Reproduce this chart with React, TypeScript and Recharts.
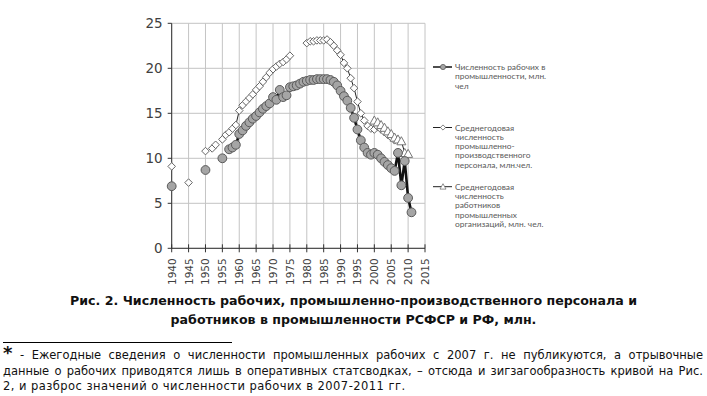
import React from 'react';
import { LineChart, Line, XAxis, YAxis, CartesianGrid } from 'recharts';

// Численность рабочих в промышленности, млн. чел
const workerYears = [1940, 1950, 1955, 1957, 1958, 1959, 1960, 1961, 1962, 1963, 1964, 1965, 1966, 1967, 1968, 1969, 1970, 1971, 1972, 1973, 1974, 1975, 1976, 1977, 1978, 1979, 1980, 1981, 1982, 1983, 1984, 1985, 1986, 1987, 1988, 1989, 1990, 1991, 1992, 1993, 1994, 1995, 1996, 1997, 1998, 1999, 2000, 2001, 2002, 2003, 2004, 2005, 2006, 2007, 2008, 2009, 2010, 2011];
const workerValues = [6.9, 8.7, 10.0, 11.0, 11.2, 11.5, 12.7, 13.1, 13.6, 14.0, 14.4, 14.7, 15.1, 15.5, 15.8, 16.1, 16.8, 16.5, 17.6, 16.8, 17.0, 17.9, 18.0, 18.1, 18.3, 18.5, 18.6, 18.7, 18.7, 18.8, 18.8, 18.8, 18.8, 18.7, 18.5, 18.1, 17.5, 16.9, 16.4, 15.6, 14.5, 13.2, 12.0, 11.2, 10.6, 10.4, 10.6, 10.4, 10.0, 9.6, 9.25, 8.9, 8.6, 10.6, 7.0, 9.7, 5.6, 4.0];

// Среднегодовая численность промышленно-производственного персонала, млн. чел.
const staffYears = [1940, 1945, 1950, 1952, 1953, 1955, 1956, 1957, 1958, 1959, 1960, 1961, 1962, 1963, 1964, 1965, 1966, 1967, 1968, 1969, 1970, 1971, 1972, 1973, 1974, 1975, 1980, 1981, 1982, 1983, 1984, 1985, 1986, 1987, 1988, 1989, 1990, 1991, 1992, 1993, 1994, 1995, 1996, 1997, 1998, 1999, 2000, 2001, 2002, 2003, 2004, 2005, 2006];
const staffValues = [9.1, 7.3, 10.8, 11.1, 11.5, 12.1, 12.6, 12.9, 13.3, 13.7, 15.3, 15.9, 16.3, 16.7, 17.1, 17.6, 18.0, 18.5, 19.0, 19.5, 19.9, 20.2, 20.5, 20.7, 21.0, 21.4, 22.8, 23.0, 23.0, 23.1, 23.1, 23.1, 23.2, 22.9, 22.5, 22.0, 21.5, 20.6, 20.0, 18.9, 17.8, 16.3, 15.0, 14.2, 13.6, 13.3, 13.2, 13.5, 13.2, 12.9, 12.6, 12.3, 12.0];

// Среднегодовая численность работников промышленных организаций, млн. чел.
const employeeYears = [2000, 2001, 2002, 2003, 2004, 2005, 2006, 2007, 2008, 2009, 2010];
const employeeValues = [14.2, 14.0, 13.7, 13.4, 13.0, 12.7, 12.3, 12.1, 11.9, 10.6, 10.5];

const xTicks = [1940, 1945, 1950, 1955, 1960, 1965, 1970, 1975, 1980, 1985, 1990, 1995, 2000, 2005, 2010, 2015];
const yTicks = [0, 5, 10, 15, 20, 25];

const legendWorkers = ['Численность рабочих в', 'промышленности, млн.', 'чел'];
const legendStaff = ['Среднегодовая', 'численность', 'промышленно-', 'производственного', 'персонала, млн.чел.'];
const legendEmployees = ['Среднегодовая', 'численность', 'работников', 'промышленных', 'организаций, млн. чел.'];

const captionLines = [
  'Рис. 2. Численность рабочих, промышленно-производственного персонала и',
  'работников в промышленности РСФСР и РФ, млн.',
];
const footnoteLines = [
  'Ежегодные сведения о численности промышленных рабочих с 2007 г. не публикуются, а отрывочные',
  'данные о рабочих приводятся лишь в оперативных статсводках, – отсюда и зигзагообразность кривой на Рис.',
  '2, и разброс значений о численности рабочих в 2007-2011 гг.',
];

const allYears = [...workerYears, ...staffYears, ...employeeYears];
const minYear = Math.min(...allYears);
const maxYear = Math.max(...allYears);
const rows: any[] = [];
for (let y = minYear; y <= maxYear; y++) {
  const wi = workerYears.indexOf(y);
  const si = staffYears.indexOf(y);
  const ei = employeeYears.indexOf(y);
  rows.push({
    year: y,
    workers: wi >= 0 ? workerValues[wi] : null,
    staff: si >= 0 ? staffValues[si] : null,
    employees: ei >= 0 ? employeeValues[ei] : null,
  });
}

const CircleDot = (p: any) => {
  if (p.cx == null || p.cy == null || p.value == null) return <g key={p.key} />;
  return <circle key={p.key} cx={p.cx} cy={p.cy} r={4.4} fill="#a5a5a5" stroke="#5a5a5a" strokeWidth={1} />;
};
const DiamondDot = (p: any) => {
  if (p.cx == null || p.cy == null || p.value == null) return <g key={p.key} />;
  const s = 3.8;
  return (
    <path key={p.key} d={`M${p.cx},${p.cy - s}L${p.cx + s},${p.cy}L${p.cx},${p.cy + s}L${p.cx - s},${p.cy}Z`} fill="#ffffff" stroke="#666666" strokeWidth={1} />
  );
};
const TriangleDot = (p: any) => {
  if (p.cx == null || p.cy == null || p.value == null) return <g key={p.key} />;
  const s = 4.5;
  return (
    <path key={p.key} d={`M${p.cx},${p.cy - s}L${p.cx + s},${p.cy + s * 0.8}L${p.cx - s},${p.cy + s * 0.8}Z`} fill="#ffffff" stroke="#777777" strokeWidth={1} />
  );
};

const XTick = (p: any) => {
  const { x, y, payload } = p;
  const ty = y + 10;
  return (
    <g>
      <line x1={x} x2={x} y1={y - 4} y2={y + 4} stroke="#333333" strokeWidth={1} />
      <text x={x} y={ty} transform={`rotate(-90 ${x} ${ty})`} textAnchor="end" dominantBaseline="central" fontSize={10.5} fill="#404040" fontFamily="DejaVu Sans">
        {payload.value}
      </text>
    </g>
  );
};

const LegendBlock = ({ y, lines, kind }: { y: number; lines: string[]; kind: string }) => {
  const lh = 9.3;
  const cx = 443;
  let marker: any = null;
  if (kind === 'circle') marker = <circle cx={cx} cy={y} r={2.6} fill="#a5a5a5" stroke="#5a5a5a" strokeWidth={0.8} />;
  if (kind === 'diamond') marker = <path d={`M${cx},${y - 2.6}L${cx + 2.6},${y}L${cx},${y + 2.6}L${cx - 2.6},${y}Z`} fill="#fff" stroke="#666" strokeWidth={0.8} />;
  if (kind === 'triangle') marker = <path d={`M${cx},${y - 3}L${cx + 3},${y + 2.4}L${cx - 3},${y + 2.4}Z`} fill="#fff" stroke="#777" strokeWidth={0.8} />;
  return (
    <g>
      <line x1={433} x2={452} y1={y} y2={y} stroke="#222" strokeWidth={kind === 'circle' ? 1.6 : 1} />
      {marker}
      {lines.map((t, i) => (
        <text key={i} x={455} y={y + i * lh} dominantBaseline="central" fontSize={8.4} fill="#595959" fontFamily="Lato">
          {t}
        </text>
      ))}
    </g>
  );
};

export default function App() {
  return (
    <div style={{ position: 'absolute', left: 0, top: 0, width: 707, height: 396, background: '#fff', overflow: 'hidden' }}>
      <div style={{ position: 'absolute', left: 0, top: 0 }}>
        <LineChart width={707} height={300} data={rows} margin={{ top: 23.3, right: 282, bottom: 11.7, left: 141.7 }}>
          <CartesianGrid stroke="#c4c4c4" strokeWidth={1} />
          <XAxis
            dataKey="year"
            type="number"
            domain={[1940, 2015]}
            ticks={xTicks}
            interval={0}
            height={40}
            tickSize={0}
            tickMargin={0}
            tickLine={false}
            axisLine={{ stroke: '#333333' }}
            tick={<XTick />}
          />
          <YAxis
            type="number"
            domain={[0, 25]}
            ticks={yTicks}
            interval={0}
            width={30}
            tickSize={4}
            tickMargin={5}
            axisLine={{ stroke: '#333333' }}
            tickLine={{ stroke: '#333333' }}
            tick={{ fontSize: 13.5, fill: '#404040', fontFamily: 'DejaVu Sans' }}
          />
          <Line dataKey="staff" stroke="#222222" strokeWidth={1} dot={DiamondDot} activeDot={false} isAnimationActive={false} connectNulls={false} />
          <Line dataKey="employees" stroke="#222222" strokeWidth={1} dot={TriangleDot} activeDot={false} isAnimationActive={false} connectNulls={false} />
          <Line dataKey="workers" stroke="#111111" strokeWidth={2.6} dot={CircleDot} activeDot={false} isAnimationActive={false} connectNulls={false} />
        </LineChart>
      </div>
      <svg width={707} height={300} style={{ position: 'absolute', left: 0, top: 0 }}>
        <LegendBlock y={67} lines={legendWorkers} kind="circle" />
        <LegendBlock y={127.5} lines={legendStaff} kind="diamond" />
        <LegendBlock y={186.7} lines={legendEmployees} kind="triangle" />
      </svg>
      <div style={{ position: 'absolute', left: 0, top: 291, width: 707, textAlign: 'center', fontFamily: 'DejaVu Sans', fontWeight: 'bold', fontSize: 12.6, lineHeight: '19px', color: '#111' }}>
        {captionLines.map((t, i) => (
          <div key={i}>{t}</div>
        ))}
      </div>
      <div style={{ position: 'absolute', left: 3, top: 342, width: 229, borderTop: '1px solid #000' }} />
      <div style={{ position: 'absolute', left: 3, top: 348, width: 700, fontFamily: 'DejaVu Sans', fontSize: 11.5, lineHeight: '15.5px', color: '#111' }}>
        {footnoteLines.map((t, i) => (
          <div
            key={i}
            style={{
              textAlign: 'justify',
              textAlignLast: i < 2 ? 'justify' : 'left',
              whiteSpace: 'nowrap',
              letterSpacing: i < 2 ? 0 : 0.45,
              height: 15.5,
            }}
          >
            {i === 0 ? (
              <span>
                <b style={{ fontSize: 18, lineHeight: '10px' }}>*</b> - {t}
              </span>
            ) : (
              t
            )}
          </div>
        ))}
      </div>
    </div>
  );
}
